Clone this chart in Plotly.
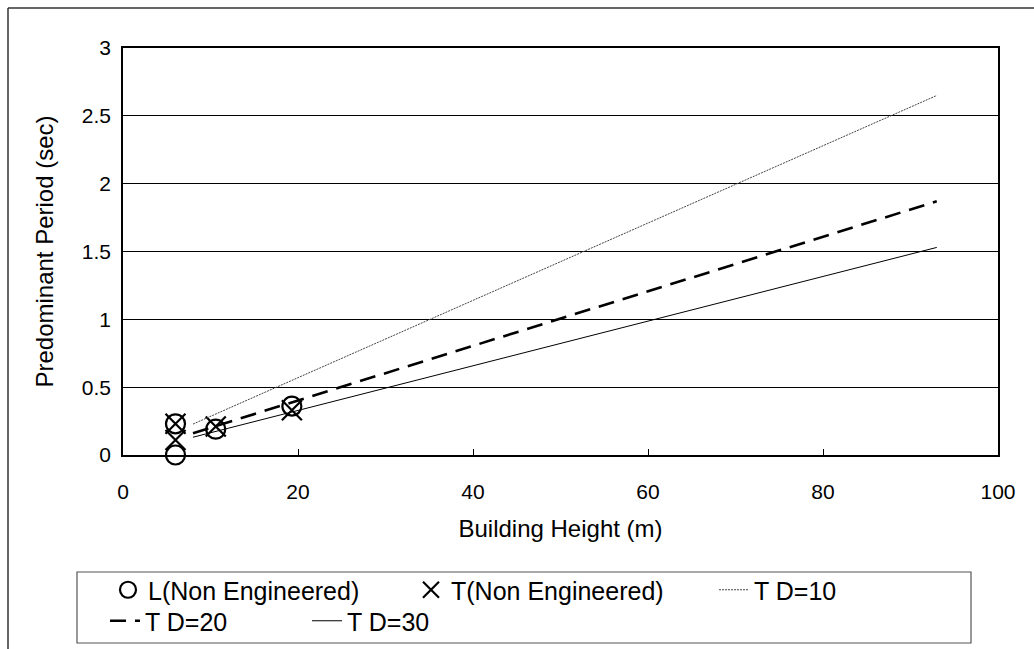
import plotly.graph_objects as go

# Data
L_height = [6.0, 6.0, 10.6, 19.3]
L_period = [0.23, 0.0, 0.19, 0.36]
T_height = [6.0, 6.0, 10.6, 19.3]
T_period = [0.23, 0.11, 0.21, 0.33]
line_height = [8, 93]
T_D10 = [0.228, 2.65]
T_D20 = [0.161, 1.87]
T_D30 = [0.131, 1.53]

W, H = 1034, 649
ML, MR, MT, MB = 123, 36, 48, 194
PW, PH = W - ML - MR, H - MT - MB

def px(x):
    return (x - ML) / PW

def py(y):
    return (H - MB - y) / PH

FONT = "Liberation Sans, Arial, sans-serif"
TICK_FS = 21
TITLE_FS = 24
LEG_FS = 25

fig = go.Figure()
fig.add_trace(go.Scatter(x=L_height, y=L_period, mode="markers", name="L(Non Engineered)",
                         legend="legend", cliponaxis=False,
                         marker=dict(symbol="circle-open", size=19, color="black", line=dict(width=2.2, color="black"))))
fig.add_trace(go.Scatter(x=T_height, y=T_period, mode="markers", name="T(Non Engineered)",
                         legend="legend", cliponaxis=False,
                         marker=dict(symbol="x-thin-open", size=20, color="black", line=dict(width=2.2, color="black"))))
fig.add_trace(go.Scatter(x=line_height, y=T_D10, mode="lines", name="T D=10",
                         legend="legend",
                         line=dict(color="#444444", width=1, dash="2px,1px")))
fig.add_trace(go.Scatter(x=line_height, y=T_D20, mode="lines", name="T D=20",
                         legend="legend2",
                         line=dict(color="black", width=2.6, dash="16px,9px")))
fig.add_trace(go.Scatter(x=line_height, y=T_D30, mode="lines", name="T D=30",
                         legend="legend2",
                         line=dict(color="black", width=1)))

leg_common = dict(orientation="h", xanchor="left", yanchor="middle",
                  borderwidth=0, bgcolor="rgba(0,0,0,0)",
                  entrywidthmode="pixels", font=dict(size=LEG_FS, family=FONT),
                  tracegroupgap=0)

fig.update_layout(
    width=W, height=H,
    margin=dict(l=ML, r=MR, t=MT, b=MB, autoexpand=False),
    paper_bgcolor="white", plot_bgcolor="white",
    font=dict(family=FONT, size=TICK_FS, color="black"),
    showlegend=True,
    legend=dict(x=px(108), y=py(590), entrywidth=298 - 40, **leg_common),
    legend2=dict(x=px(105), y=py(621), entrywidth=197 - 40, **leg_common),
    xaxis=dict(range=[0, 100], tickvals=[0, 20, 40, 60, 80, 100], showgrid=False,
               showline=True, linecolor="black", linewidth=1.5, mirror=True,
               ticks="inside", ticklen=6, tickcolor="black", zeroline=False,
               ticklabelstandoff=17, tickfont=dict(size=TICK_FS),
               title=dict(text="Building Height (m)", standoff=18, font=dict(size=TITLE_FS))),
    yaxis=dict(range=[0, 3], tickvals=[0, 0.5, 1, 1.5, 2, 2.5, 3],
               ticktext=["0", "0.5", "1", "1.5", "2", "2.5", "3"],
               showgrid=True, gridcolor="black", gridwidth=1,
               showline=True, linecolor="black", linewidth=1.5, mirror=True,
               ticks="", zeroline=False, ticklabelstandoff=6, tickfont=dict(size=TICK_FS),
               title=dict(text="Predominant Period (sec)", standoff=21, font=dict(size=TITLE_FS))),
    shapes=[
        dict(type="line", xref="paper", yref="paper", x0=px(8), x1=px(W + 5), y0=py(8), y1=py(8),
             line=dict(color="#333333", width=1.5)),
        dict(type="line", xref="paper", yref="paper", x0=px(8), x1=px(8), y0=py(8), y1=py(H + 5),
             line=dict(color="#333333", width=1.5)),
        dict(type="rect", xref="paper", yref="paper", x0=px(77), x1=px(971), y0=py(572), y1=py(643),
             line=dict(color="#555555", width=1.2), fillcolor="rgba(0,0,0,0)", layer="below"),
    ],
)

fig.write_html("out.html")
